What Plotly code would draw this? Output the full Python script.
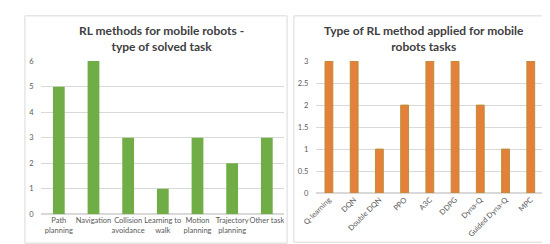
import plotly.graph_objects as go

tasks = ["Path<br>planning", "Navigation", "Collision<br>avoidance", "Learning to<br>walk",
         "Motion<br>planning", "Trajectory<br>planning", "Other task"]
task_counts = [5, 6, 3, 1, 3, 2, 3]

methods = ["Q-learning", "DQN", "Double DQN", "PPO", "A3C", "DDPG", "Dyna-Q", "Guided Dyna-Q", "MPC"]
method_counts = [3, 3, 1, 2, 3, 3, 2, 1, 3]

W, H = 550, 244
def px(x): return x / W
def py(y): return 1 - y / H

FONT = "Lato"
fig = go.Figure()
fig.add_trace(go.Bar(x=tasks, y=task_counts, marker=dict(color="#70AD47", line=dict(width=0)),
                     xaxis="x", yaxis="y", showlegend=False))
fig.add_trace(go.Bar(x=methods, y=method_counts, marker=dict(color="#E5803A", line=dict(color="#B8913A", width=1)),
                     xaxis="x2", yaxis="y2", showlegend=False))

tickfont = dict(family=FONT, size=7.5, color="#595959")
fig.update_layout(
    width=W, height=H, margin=dict(l=0, r=0, t=0, b=0),
    paper_bgcolor="white", plot_bgcolor="white", bargap=0.66,
    xaxis=dict(domain=[px(20), px(269)], anchor="y", showgrid=False, showline=False,
               ticks="", tickfont=tickfont, tickangle=0),
    yaxis=dict(domain=[py(210), py(51)], anchor="x", range=[0, 6], dtick=1,
               gridcolor="#D9D9D9", gridwidth=1, zeroline=True, zerolinecolor="#D9D9D9",
               showline=False, ticks="", tickfont=tickfont, ticklabelstandoff=7),
    xaxis2=dict(domain=[px(302), px(535)], anchor="y2", showgrid=False, showline=False,
                ticks="", tickfont=tickfont, tickangle=-45),
    yaxis2=dict(domain=[py(188), py(51)], anchor="x2", range=[0, 3], dtick=0.5,
                gridcolor="#D9D9D9", gridwidth=1, zeroline=True, zerolinecolor="#D9D9D9",
                showline=False, ticks="", tickfont=tickfont, ticklabelstandoff=7),
    shapes=[
        dict(type="rect", xref="paper", yref="paper", x0=px(3), x1=px(272), y0=py(240), y1=py(4),
             line=dict(color="#D9D9D9", width=1)),
        dict(type="rect", xref="paper", yref="paper", x0=px(279), x1=px(546), y0=py(239), y1=py(4),
             line=dict(color="#D9D9D9", width=1)),
    ],
    annotations=[
        dict(text="<b>RL methods for mobile robots -<br>type of solved task</b>", xref="paper", yref="paper",
             x=px(143), y=py(27), showarrow=False, font=dict(family=FONT, size=12, color="#404040"),
             xanchor="center", yanchor="middle"),
        dict(text="<b>Type of RL method applied for mobile<br>robots tasks</b>", xref="paper", yref="paper",
             x=px(413), y=py(27), showarrow=False, font=dict(family=FONT, size=12, color="#404040"),
             xanchor="center", yanchor="middle"),
    ],
)
fig.data[1].update(width=0.31)
fig.write_html("out.html")
